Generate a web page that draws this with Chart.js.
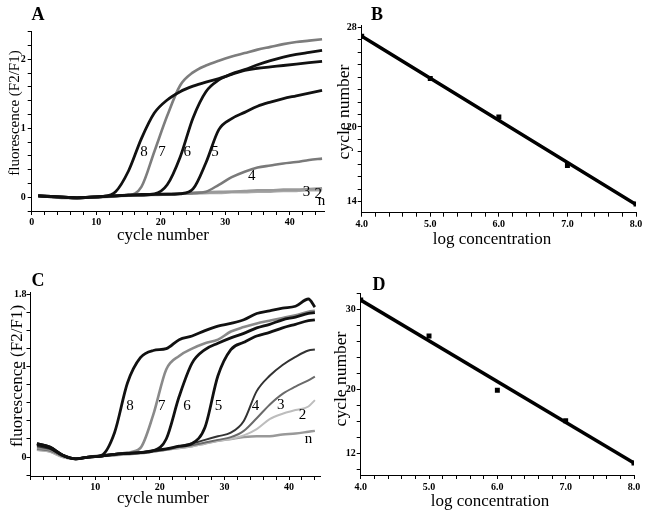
<!DOCTYPE html>
<html lang="en">
<head>
<meta charset="UTF-8">
<title>Fluorescence curves and standard curves</title>
<script src="https://cdn.jsdelivr.net/npm/chart.js"></script>
<style>
    body { margin: 0; background: #fff; }
    #page { position: relative; width: 655px; height: 515px; overflow: hidden; font-family: "Liberation Serif", serif; color: #000; }
    #page canvas { position: absolute; }
    .txt { position: absolute; white-space: nowrap; line-height: 1; transform: translate(-50%, -50%); }
    .rot { transform: translate(-50%, -50%) rotate(-90deg); }
    .panel { font-weight: bold; font-size: 18px; }
</style>
</head>
<body>
<div id="page">
    <canvas id="chartA" width="330" height="250" style="left:0;top:0"></canvas>
    <canvas id="chartB" width="325" height="250" style="left:330px;top:0"></canvas>
    <canvas id="chartC" width="330" height="265" style="left:0;top:250px"></canvas>
    <canvas id="chartD" width="325" height="265" style="left:330px;top:250px"></canvas>

    <div class="txt panel" style="left:38px;top:14px">A</div>
    <div class="txt panel" style="left:377px;top:14px">B</div>
    <div class="txt panel" style="left:38px;top:280px">C</div>
    <div class="txt panel" style="left:379px;top:284px">D</div>

    <div class="txt rot" style="left:14px;top:113px;font-size:15px">fluorescence (F2/F1)</div>
    <div class="txt" style="left:163px;top:234px;font-size:17px">cycle number</div>
    <div class="txt rot" style="left:344px;top:112px;font-size:17.5px">cycle number</div>
    <div class="txt" style="left:492px;top:237.5px;font-size:17px">log concentration</div>
    <div class="txt rot" style="left:15.5px;top:376px;font-size:17px">fluorescence (F2/F1)</div>
    <div class="txt" style="left:163px;top:497px;font-size:17px">cycle number</div>
    <div class="txt rot" style="left:341px;top:379px;font-size:17.5px">cycle number</div>
    <div class="txt" style="left:490px;top:500px;font-size:17px">log concentration</div>
</div>

<script>
    // panel A - amplification curves, cycles 1..45
    const aCycles = [1, 3, 5, 7, 9, 11, 13, 15, 17, 19, 21, 23, 25, 27, 29, 31, 33, 35, 37, 39, 41, 43, 45];
    const a8 = [0.02, 0.01, 0.00, -0.01, 0.00, 0.01, 0.08, 0.38, 0.85, 1.22, 1.41, 1.53, 1.61, 1.67, 1.72, 1.78, 1.84, 1.87, 1.89, 1.91, 1.93, 1.95, 1.97];
    const a7 = [0.02, 0.00, -0.01, -0.01, 0.00, 0.01, 0.02, 0.03, 0.15, 0.66, 1.18, 1.62, 1.81, 1.91, 1.98, 2.04, 2.09, 2.14, 2.18, 2.22, 2.25, 2.27, 2.29];
    const a6 = [0.02, 0.01, 0.00, -0.01, 0.00, 0.01, 0.02, 0.03, 0.04, 0.05, 0.18, 0.58, 1.15, 1.53, 1.70, 1.79, 1.85, 1.92, 1.98, 2.03, 2.07, 2.10, 2.13];
    const a5 = [0.02, 0.01, 0.00, -0.01, 0.00, 0.01, 0.02, 0.03, 0.03, 0.04, 0.04, 0.05, 0.12, 0.50, 0.98, 1.14, 1.23, 1.32, 1.38, 1.43, 1.47, 1.51, 1.55];
    const a4 = [0.02, 0.01, 0.00, -0.01, 0.00, 0.01, 0.02, 0.03, 0.03, 0.04, 0.05, 0.05, 0.06, 0.08, 0.18, 0.29, 0.37, 0.43, 0.46, 0.49, 0.51, 0.54, 0.56];
    const a3 = [0.02, 0.01, 0.00, -0.01, 0.00, 0.01, 0.02, 0.03, 0.03, 0.04, 0.05, 0.05, 0.06, 0.07, 0.08, 0.08, 0.09, 0.10, 0.10, 0.11, 0.11, 0.12, 0.13];
    const a2 = [0.02, 0.01, 0.00, -0.01, 0.00, 0.01, 0.02, 0.02, 0.03, 0.04, 0.04, 0.05, 0.06, 0.06, 0.07, 0.08, 0.08, 0.09, 0.09, 0.10, 0.10, 0.11, 0.12];
    const aN = [0.02, 0.01, 0.00, -0.01, 0.00, 0.00, 0.01, 0.02, 0.03, 0.03, 0.04, 0.05, 0.05, 0.06, 0.06, 0.07, 0.07, 0.08, 0.08, 0.09, 0.09, 0.10, 0.10];
    const aTagText = ['8', '7', '6', '5', '4', '3', '2', 'n'];
    const aTagX = [17.4, 20.2, 24.1, 28.4, 34.1, 42.6, 44.4, 44.9];
    const aTagY = [0.65, 0.65, 0.65, 0.65, 0.31, 0.07, 0.05, -0.05];

    // panel B - standard curve
    const bConc = [4.0, 5.0, 6.0, 7.0, 8.0];
    const bCycle = [27.3, 23.9, 20.8, 16.9, 13.8];
    const bFitX = [4.0, 8.0];
    const bFitY = [27.3, 13.75];

    // panel C - amplification curves, cycles 1..44
    const cCycles = [1, 3, 5, 7, 9, 11, 13, 15, 17, 19, 21, 23, 25, 27, 29, 31, 33, 35, 37, 39, 41, 43, 44];
    const c8 = [0.15, 0.11, 0.02, -0.02, 0.00, 0.02, 0.27, 0.82, 1.10, 1.18, 1.20, 1.30, 1.34, 1.40, 1.45, 1.48, 1.52, 1.59, 1.62, 1.65, 1.67, 1.75, 1.66];
    const c7 = [0.10, 0.08, 0.01, -0.02, 0.00, 0.02, 0.03, 0.05, 0.10, 0.47, 0.97, 1.12, 1.20, 1.26, 1.30, 1.39, 1.44, 1.48, 1.51, 1.54, 1.57, 1.61, 1.62];
    const c6 = [0.14, 0.10, 0.02, -0.02, 0.00, 0.01, 0.03, 0.04, 0.05, 0.07, 0.20, 0.67, 1.04, 1.19, 1.26, 1.32, 1.37, 1.43, 1.47, 1.52, 1.55, 1.59, 1.60];
    const c5 = [0.15, 0.11, 0.02, -0.02, 0.00, 0.01, 0.03, 0.04, 0.05, 0.07, 0.09, 0.12, 0.15, 0.33, 0.90, 1.19, 1.27, 1.34, 1.38, 1.43, 1.47, 1.51, 1.52];
    const c4 = [0.12, 0.09, 0.01, -0.02, 0.00, 0.01, 0.03, 0.04, 0.05, 0.07, 0.09, 0.12, 0.15, 0.19, 0.23, 0.27, 0.40, 0.73, 0.90, 1.02, 1.11, 1.18, 1.19];
    const c3 = [0.09, 0.07, 0.01, -0.02, 0.00, 0.01, 0.02, 0.04, 0.05, 0.06, 0.08, 0.11, 0.13, 0.16, 0.19, 0.22, 0.29, 0.43, 0.58, 0.70, 0.78, 0.85, 0.89];
    const c2 = [0.08, 0.06, 0.00, -0.02, 0.00, 0.01, 0.02, 0.03, 0.05, 0.06, 0.08, 0.10, 0.12, 0.15, 0.18, 0.20, 0.24, 0.31, 0.42, 0.48, 0.52, 0.56, 0.63];
    const cN = [0.08, 0.06, 0.00, -0.02, 0.00, 0.01, 0.02, 0.03, 0.04, 0.06, 0.08, 0.10, 0.12, 0.15, 0.18, 0.20, 0.22, 0.23, 0.23, 0.25, 0.26, 0.28, 0.29];
    const cTagText = ['8', '7', '6', '5', '4', '3', '2', 'n'];
    const cTagX = [15.4, 20.3, 24.2, 29.1, 34.8, 38.7, 42.1, 43.0];
    const cTagY = [0.57, 0.57, 0.57, 0.57, 0.57, 0.58, 0.47, 0.20];

    // panel D - standard curve
    const dConc = [4.0, 5.0, 6.0, 7.0, 8.0];
    const dCycle = [31.2, 26.7, 19.9, 16.1, 10.8];
    const dFitX = [4.0, 8.0];
    const dFitY = [31.2, 10.8];

    // labelled ticks on each axis
    const aXLabels = [0, 10, 20, 30, 40];
    const aYLabels = [0, 1, 2];
    const bXLabels = [4, 5, 6, 7, 8];
    const bYLabels = [14, 20, 28];
    const cXLabels = [10, 20, 30, 40];
    const cYLabels = [0, 1, 1.8];
    const dXLabels = [4, 5, 6, 7, 8];
    const dYLabels = [12, 20, 30];

    const serif = 'Liberation Serif';

    // draws the curve numbers next to the lines, in data coordinates
    const curveTags = {
        id: 'curveTags',
        afterDatasetsDraw(chart, args, opts) {
            const { ctx, scales: { x, y } } = chart;
            ctx.save();
            ctx.font = '15px "' + serif + '"';
            ctx.fillStyle = '#000';
            ctx.textAlign = 'center';
            ctx.textBaseline = 'middle';
            (opts.text || []).forEach((t, i) => {
                ctx.fillText(t, x.getPixelForValue(opts.x[i]), y.getPixelForValue(opts.y[i]));
            });
            ctx.restore();
        }
    };

    function axis(min, max, step, shown, fmt, size, pad) {
        return {
            type: 'linear',
            min: min,
            max: max,
            grid: { drawOnChartArea: false, color: '#000', tickLength: 4, tickWidth: 1 },
            border: { color: '#000', width: 1 },
            ticks: {
                autoSkip: false,
                maxRotation: 0,
                padding: pad,
                color: '#000',
                font: { family: serif, size: 10, weight: 'bold' },
                callback: v => shown.some(l => Math.abs(l - v) < 1e-6) ? fmt(v) : ''
            },
            // one tick mark every step inside the range, no extra marks at the ends
            afterBuildTicks: s => {
                const list = [];
                for (let k = Math.ceil(min / step - 1e-6); k * step <= max + 1e-6; k++) {
                    list.push({ value: Math.round(k * step * 1000) / 1000 });
                }
                s.ticks = list;
            },
            afterFit: s => {
                if (s.isHorizontal()) s.height = size; else s.width = size;
            }
        };
    }

    function curve(xs, ys, color, width) {
        return {
            data: xs.map((x, i) => ({ x: x, y: ys[i] })),
            borderColor: color,
            borderWidth: width,
            pointRadius: 0,
            cubicInterpolationMode: 'monotone',
            fill: false
        };
    }

    function squares(xs, ys) {
        return {
            data: xs.map((x, i) => ({ x: x, y: ys[i] })),
            showLine: false,
            pointStyle: 'rect',
            pointRadius: 3.5,
            backgroundColor: '#000',
            borderColor: '#000',
            borderWidth: 0
        };
    }

    function makeChart(id, datasets, xAxis, yAxis, padding, tags) {
        return new Chart(document.getElementById(id), {
            type: 'line',
            data: { datasets: datasets },
            options: {
                responsive: false,
                animation: false,
                events: [],
                layout: { padding: padding },
                plugins: {
                    legend: { display: false },
                    tooltip: { enabled: false },
                    curveTags: tags || {}
                },
                scales: { x: xAxis, y: yAxis }
            },
            plugins: [curveTags]
        });
    }

    const intLabel = v => String(Math.round(v));
    const oneDec = v => v.toFixed(1);

    makeChart('chartA', [
        curve(aCycles, a8, '#111', 2.8),
        curve(aCycles, a6, '#111', 2.8),
        curve(aCycles, a5, '#111', 2.8),
        curve(aCycles, a7, '#7d7d7d', 2.6),
        curve(aCycles, a4, '#7a7a7a', 2.6),
        curve(aCycles, a3, '#9a9a9a', 2.6),
        curve(aCycles, a2, '#a5a5a5', 2.4),
        curve(aCycles, aN, '#ababab', 2.4)
    ],
        axis(0, 45.3, 2, aXLabels, intLabel, 39, 1),
        axis(-0.2, 2.4, 0.2, aYLabels, intLabel, 31.7, 2),
        { top: 31.7, right: 6, bottom: 0, left: 0 },
        { text: aTagText, x: aTagX, y: aTagY }
    );

    makeChart('chartB', [
        curve(bFitX, bFitY, '#000', 3.5),
        squares(bConc, bCycle)
    ],
        axis(4, 8, 0.2, bXLabels, oneDec, 37.3, 2),
        axis(13.1, 28.2, 1, bYLabels, intLabel, 31.7, 1),
        { top: 25, right: 19, bottom: 0, left: 0 }
    );

    makeChart('chartC', [
        curve(cCycles, c8, '#111', 2.8),
        curve(cCycles, c6, '#111', 2.8),
        curve(cCycles, c5, '#111', 2.8),
        curve(cCycles, c4, '#333', 2),
        curve(cCycles, c7, '#8a8a8a', 2.6),
        curve(cCycles, c3, '#6a6a6a', 2),
        curve(cCycles, c2, '#bdbdbd', 2),
        curve(cCycles, cN, '#999', 2.4)
    ],
        axis(0, 44.9, 2, cXLabels, intLabel, 39, 1),
        axis(-0.21, 1.82, 0.2, cYLabels, v => String(Math.round(v * 10) / 10), 30.5, 0),
        { top: 42.7, right: 9.3, bottom: 0, left: 0 },
        { text: cTagText, x: cTagX, y: cTagY }
    );

    makeChart('chartD', [
        curve(dFitX, dFitY, '#000', 3.5),
        squares(dConc, dCycle)
    ],
        axis(4, 8, 0.2, dXLabels, oneDec, 40, 2),
        axis(9.3, 32.05, 2, dYLabels, intLabel, 30.7, 1),
        { top: 43.3, right: 21, bottom: 0, left: 0 }
    );
</script>
</body>
</html>
